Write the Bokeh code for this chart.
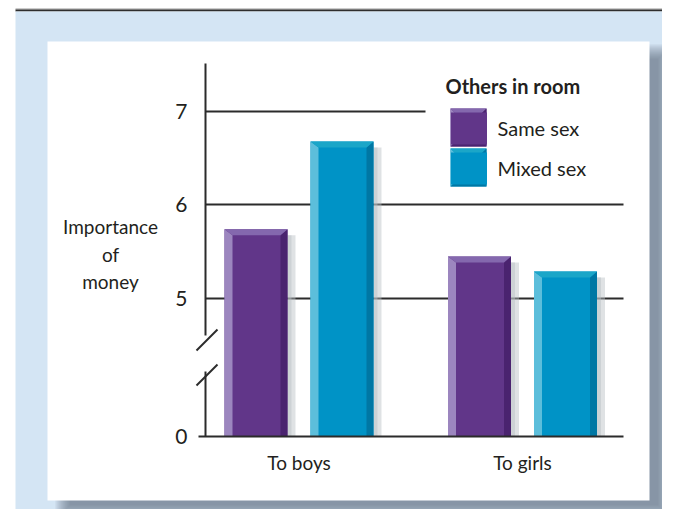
from bokeh.plotting import figure
from bokeh.models import (Range1d, FixedTicker, BoxAnnotation, Label, Legend,
                          LegendItem, Arrow, Grid, LinearAxis, PolyAnnotation)
from bokeh.embed import file_html
from bokeh.resources import INLINE

# ---------------- data ----------------
groups = ["To boys", "To girls"]
series = ["Same sex", "Mixed sex"]
same_sex = [5.74, 5.45]
mixed_sex = [6.68, 5.29]
y_ticks = [0, 5, 6, 7]
y_label_lines = ["Importance", "of", "money"]
legend_title = "Others in room"

# ---------------- styling ----------------
FONT = "Lato"
TXT = "#231f20"
AX = "#2b2b2b"
BLUE_BG = "#d4e5f4"
PURPLE = dict(main="#613689", light="#9c86bf", dark="#4a236f", top="#8468ae")
CYAN = dict(main="#0093c6", light="#5cbedb", dark="#0077a4", top="#1ba6c8")

# axis break: values above the break are drawn shifted down
BREAK_SHIFT = 3.524


def disp(v):
    return v - BREAK_SHIFT if v > 0 else 0.0


# page geometry (screen px of the photographed page)
W, H = 662, 509
CX0, CY0 = 0, 0
AXIS_X, AXIS_TOP, AXIS_RIGHT, BASE_Y = 205, 63, 623, 436
GROUP0_X = 298.5
PX_X = 223.5   # px per x unit
PX_Y = 93.5    # px per y unit


def dx(X):      # screen x -> data x
    return (X - GROUP0_X) / PX_X


def dy(Y):      # screen y -> data y
    return (BASE_Y - Y) / PX_Y


def sx(X):      # screen x -> frame screen units
    return X - CX0


def sy(Y):
    return CY0 + H - Y


p = figure(width=W, height=H, output_backend="svg", toolbar_location=None,
           x_range=Range1d(dx(CX0), dx(CX0 + W)),
           y_range=Range1d(dy(CY0 + H), dy(CY0)),
           x_axis_location=None, y_axis_location=None,
           min_border=0, min_border_left=0, min_border_right=0,
           min_border_top=0, min_border_bottom=0)
p.outline_line_color = None
p.background_fill_color = "white"
p.border_fill_color = "white"
p.grid.visible = False


# ---------------- page decoration ----------------
def box(L, T, R, B, color, alpha=1.0, level="image"):
    b = BoxAnnotation(left=sx(L), right=sx(R), top=sy(T), bottom=sy(B),
                      left_units="screen", right_units="screen",
                      top_units="screen", bottom_units="screen",
                      fill_color=color, fill_alpha=alpha, line_color=None,
                      level=level)
    p.add_layout(b)
    return b


def poly(pts, color, level="annotation"):
    p.add_layout(PolyAnnotation(xs=[sx(a) for a, _ in pts], ys=[sy(b) for _, b in pts],
                                xs_units="screen", ys_units="screen",
                                fill_color=color, fill_alpha=1, line_color=None,
                                level=level))


box(15, 8, 700, 9, "#9a9a9a")
box(15, 9, 700, 11, "#2e2e2e")
box(15, 11, 700, 540, BLUE_BG)
for e in [8, 6, 4, 2, 0, -2, -4, -6]:
    box(63 - e, 52 - e, 664 + e, 511 + e, "#5d6878", alpha=0.11)
box(47, 41, 649, 500, "white")

# ---------------- grid ----------------
g56 = Grid(dimension=1, ticker=FixedTicker(ticks=[disp(5), disp(6)]),
           cross_bounds=(dx(AXIS_X), dx(AXIS_RIGHT)),
           grid_line_color=AX, grid_line_width=2)
g7 = Grid(dimension=1, ticker=FixedTicker(ticks=[disp(7)]),
          cross_bounds=(dx(AXIS_X), dx(425)),
          grid_line_color=AX, grid_line_width=2)
p.add_layout(g56)
p.add_layout(g7)

# ---------------- axes ----------------
xa = LinearAxis(fixed_location=0, bounds=(dx(198), dx(AXIS_RIGHT)),
                ticker=FixedTicker(ticks=list(range(len(groups)))),
                major_label_overrides={i: g for i, g in enumerate(groups)},
                axis_line_color=AX, axis_line_width=2,
                major_tick_line_color=None, minor_tick_line_color=None,
                major_label_text_font=FONT, major_label_text_font_size="19px",
                major_label_text_color=TXT, major_label_standoff=8)
p.add_layout(xa, "below")

ya = LinearAxis(fixed_location=dx(AXIS_X), bounds=(0, dy(AXIS_TOP)),
                ticker=FixedTicker(ticks=[disp(t) for t in y_ticks]),
                major_label_overrides={disp(t): str(t) for t in y_ticks},
                axis_line_color=AX, axis_line_width=2,
                major_tick_line_color=None, minor_tick_line_color=None,
                major_label_text_font=FONT, major_label_text_font_size="21px",
                major_label_text_color=TXT, major_label_standoff=12)
p.add_layout(ya, "left")

# ---------------- bars ----------------
BAR_W = 63 / PX_X
OFFSET = 43 / PX_X
LW = 8 / PX_X
RW = 7 / PX_X
BEV = 6 / PX_Y
SH = 8 / PX_X

legend_renderers = []
for vals, pal, off in [(same_sex, PURPLE, -OFFSET), (mixed_sex, CYAN, OFFSET)]:
    xs = [i + off for i in range(len(vals))]
    tops = [disp(v) for v in vals]
    xl = [x - BAR_W / 2 for x in xs]
    xr = [x + BAR_W / 2 for x in xs]
    # soft shadow to the right
    p.quad(left=xr, right=[b + SH for b in xr], bottom=0, top=[t - BEV for t in tops],
           fill_color="#b9bec4", fill_alpha=0.45, line_color=None)
    p.quad(left=xr, right=[b + SH / 2 for b in xr], bottom=0, top=[t - BEV for t in tops],
           fill_color="#b9bec4", fill_alpha=0.45, line_color=None)
    r = p.vbar(x=xs, top=tops, bottom=0, width=BAR_W, fill_color=pal["main"],
               line_color=None)
    legend_renderers.append(r)
    p.patches(xs=[[a, a, a + LW, a + LW] for a in xl],
              ys=[[0, t, t - BEV, 0] for t in tops],
              fill_color=pal["light"], line_color=None)
    p.patches(xs=[[b, b, b - RW, b - RW] for b in xr],
              ys=[[0, t, t - BEV, 0] for t in tops],
              fill_color=pal["dark"], line_color=None)
    p.patches(xs=[[a, b, b - RW, a + LW] for a, b in zip(xl, xr)],
              ys=[[t, t, t - BEV, t - BEV] for t in tops],
              fill_color=pal["top"], line_color=None)

# ---------------- axis break ----------------
box(199, 335, 212, 371, "white", level="annotation")
for y0 in [350, 385]:
    p.add_layout(Arrow(x_start=sx(196), y_start=sy(y0), x_end=sx(217), y_end=sy(y0 - 21),
                       start_units="screen", end_units="screen", end=None,
                       line_color=AX, line_width=2))

# ---------------- y label ----------------
for txt, Y in zip(y_label_lines, [226, 254, 281]):
    p.add_layout(Label(x=sx(110), y=sy(Y), x_units="screen", y_units="screen",
                       text=txt, text_align="center", text_baseline="middle",
                       text_font=FONT, text_font_size="19px", text_color=TXT))

# ---------------- legend ----------------
PAD = 8
legend = Legend(items=[LegendItem(label=s, renderers=[r]) for s, r in zip(series, legend_renderers)],
                title=legend_title, location=(sx(445.5), sy(188)), margin=0, padding=PAD,
                spacing=0, glyph_width=45, glyph_height=40, label_standoff=7,
                title_standoff=10,
                background_fill_color="white", background_fill_alpha=0,
                border_line_color=None,
                title_text_font=FONT, title_text_font_style="bold",
                title_text_font_size="20px", title_text_color=TXT,
                label_text_font=FONT, label_text_font_size="20px",
                label_text_color=TXT)
p.add_layout(legend)

# bevelled swatches drawn over the legend glyphs
SW_L, SW_R, SW_B = 450, 486, 5
for pal, (T, B) in zip([PURPLE, CYAN], [(108, 146), (148, 186)]):
    box(SW_L, T, SW_R, B, pal["main"], level="annotation")
    poly([(SW_L, T), (SW_L + SW_B, T + SW_B), (SW_L + SW_B, B - SW_B), (SW_L, B)], pal["light"])
    poly([(SW_L, T), (SW_R, T), (SW_R - SW_B, T + SW_B), (SW_L + SW_B, T + SW_B)], pal["top"])
    poly([(SW_R, T), (SW_R, B), (SW_R - SW_B, B - SW_B), (SW_R - SW_B, T + SW_B)], pal["dark"])
    poly([(SW_L, B), (SW_R, B), (SW_R - SW_B, B - SW_B), (SW_L + SW_B, B - SW_B)], pal["dark"])

open("out.html", "w").write(file_html(p, INLINE))
